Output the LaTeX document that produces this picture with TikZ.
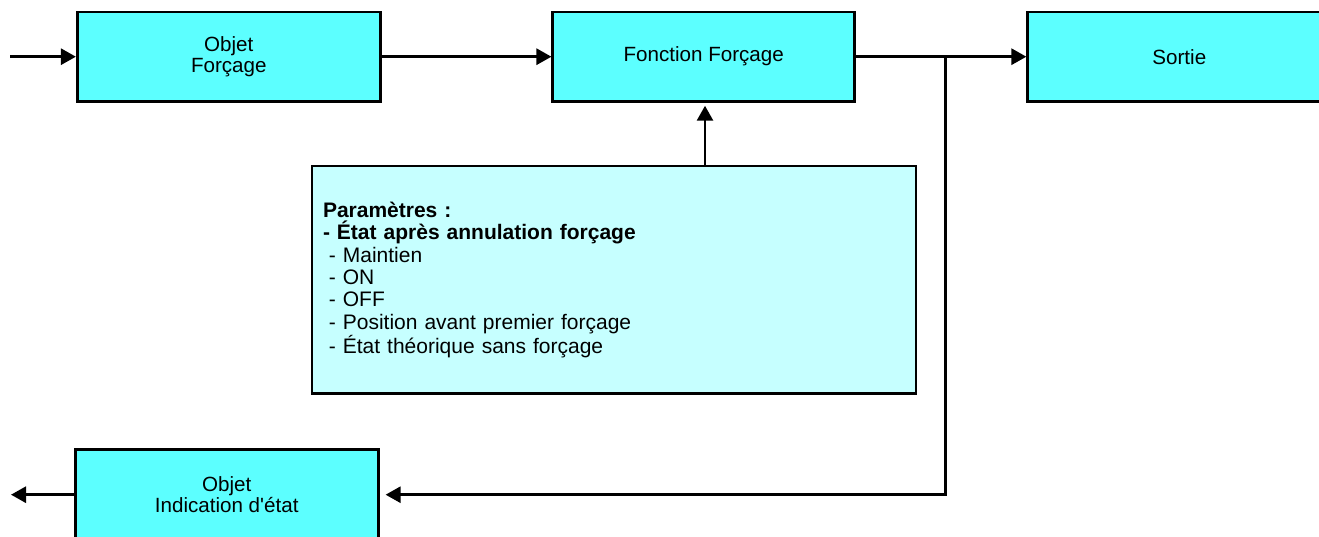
\documentclass[tikz,border=0pt]{standalone}
\usepackage{fontspec}
\newfontfamily\diagfont{Liberation Sans}
\usetikzlibrary{arrows.meta}
\definecolor{boxcyan}{RGB}{92,255,255}
\definecolor{paramcyan}{RGB}{198,255,255}
\tikzset{
  blockbox/.style={draw=black, line width=2.8pt, fill=boxcyan, minimum width=303pt, minimum height=89.3pt, inner sep=0pt, align=center, font=\diagfont\fontsize{20.6}{20.7}\selectfont},
  parambox/.style={draw=black, line width=2.8pt, fill=paramcyan, minimum height=227.3pt, text width=582pt, inner xsep=11pt, inner ysep=0pt, align=left, font=\diagfont\fontsize{21}{22.4}\selectfont},
  flow/.style={line width=2.8pt, -{Triangle[length=15pt,width=16pt]}}
}
\begin{document}
\begin{tikzpicture}[x=1pt,y=1pt]
\useasboundingbox (0,0) rectangle (1319,536);
\clip (0,0) rectangle (1319,536);
\node[blockbox] (obj) at (228.8,479.3) {Objet\\Forçage};
\node[blockbox, minimum width=301.7pt] (fct) at (703.7,479.3) {Fonction Forçage};
\node[blockbox] (sortie) at (1179.3,479.3) {Sortie};
\node[parambox] (param) at (614,256.3) {\textbf{Paramètres :}\\
\textbf{- État après annulation forçage}\\
\hspace*{0.28em}- Maintien\\
\hspace*{0.28em}- ON\\
\hspace*{0.28em}- OFF\\
\hspace*{0.28em}- Position avant premier forçage\\
\hspace*{0.28em}- État théorique sans forçage};
\node[blockbox] (ind) at (226.7,41.7) {Objet\\Indication d'état};
\coordinate (in) at (10,479.3);
\coordinate (branch) at (945.5,479.3);
\coordinate (corner) at (945.5,41.3);
\coordinate (out) at (11,41.3);
\draw[flow] (in) -- (obj.west);
\draw[flow] (obj.east) -- (fct.west);
\draw[flow] (fct.east) -- (sortie.west);
\draw[flow, shorten >=3pt] (param.north -| 705,0) -- (fct.south -| 705,0);
\draw[flow, shorten >=6pt] (branch) -- (corner) -- (ind.east |- corner);
\draw[flow] (ind.west |- out) -- (out);
\end{tikzpicture}
\end{document}
